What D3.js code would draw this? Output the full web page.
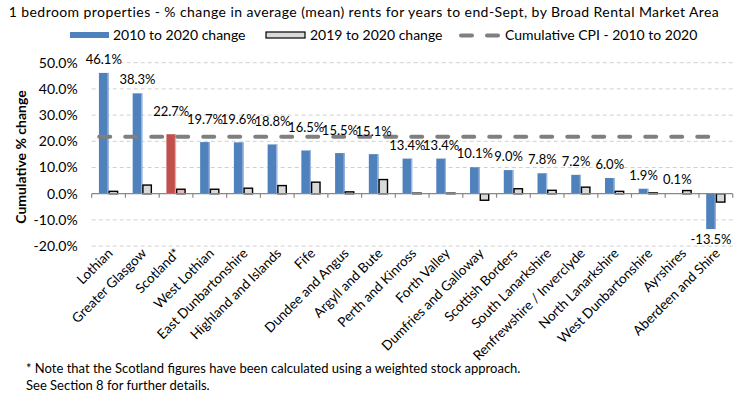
<!DOCTYPE html>
<html><head><meta charset="utf-8">
<script src="https://cdn.jsdelivr.net/npm/d3@7"></script>
<style>body{margin:0;background:#fff}svg{display:block;font-family:Lato,"Open Sans",sans-serif}</style>
</head><body><svg id="c" width="752" height="402"></svg>
<script>
const categories = ["Lothian","Greater Glasgow","Scotland*","West Lothian","East Dunbartonshire","Highland and Islands","Fife","Dundee and Angus","Argyll and Bute","Perth and Kinross","Forth Valley","Dumfries and Galloway","Scottish Borders","South Lanarkshire","Renfrewshire / Inverclyde","North Lanarkshire","West Dunbartonshire","Ayrshires","Aberdeen and Shire"];
const change2010to2020 = [46.1,38.3,22.7,19.7,19.6,18.8,16.5,15.5,15.1,13.4,13.4,10.1,9.0,7.8,7.2,6.0,1.9,0.1,-13.5];
const change2019to2020 = [0.9,3.3,1.7,1.7,2.1,3.1,4.4,0.7,5.4,0.2,0.2,-2.5,1.9,1.3,2.5,0.9,0.3,1.2,-3.2];
const cpi2010to2020 = 21.7;
const yTicks = [-20,-10,0,10,20,30,40,50];
const seriesNames = ["2010 to 2020 change","2019 to 2020 change","Cumulative CPI - 2010 to 2020"];
const title = "1 bedroom properties - % change in average (mean) rents for years to end-Sept, by Broad Rental Market Area";
const yTitle = "Cumulative % change";
const notes = ["* Note that the Scotland figures have been calculated using a weighted stock approach.","See Section 8 for further details."];

const svg = d3.select("#c");
const L = 91.7, R = 732.7, T = 62.7, B = 246.1;
const x = d3.scaleBand().domain(categories).range([L, R]).paddingInner(0).paddingOuter(0);
const sub = d3.scaleBand().domain([0,1]).range([0, x.bandwidth()]).paddingInner(0).paddingOuter(0.75);
const y = d3.scaleLinear().domain([-20, 50]).range([B, T]);
const fmt = v => v.toFixed(1) + "%";

// title
svg.append("text").attr("x", 364).attr("y", 17).attr("text-anchor","middle").attr("font-size",14)
  .attr("letter-spacing",0.43).attr("fill","#000").text(title);

// gridlines
svg.append("g").selectAll("line").data(yTicks.filter(d=>d!==0)).join("line")
  .attr("x1", L).attr("x2", R).attr("y1", d=>y(d)).attr("y2", d=>y(d))
  .attr("stroke","#d0d0d0").attr("stroke-width",1).attr("stroke-dasharray","4,3");

// y axis labels
const yAxis = d3.axisLeft(y).tickValues(yTicks).tickFormat(fmt).tickSize(0).tickPadding(0);
const ya = svg.append("g").attr("transform",`translate(${L-14},0)`).call(yAxis);
ya.select(".domain").remove();
ya.selectAll("text").attr("font-size",14).attr("font-family","Lato,'Open Sans',sans-serif").attr("fill","#000");

// y title
svg.append("text").attr("transform","translate(26,157) rotate(-90)").attr("text-anchor","middle")
  .attr("font-size",14).attr("font-weight","bold").text(yTitle);

// bars
const gBars = svg.append("g");
const rows = categories.map((c,i)=>({c, a:change2010to2020[i], b:change2019to2020[i], scot:c==="Scotland*"}));
gBars.selectAll("rect.a").data(rows).join("rect").attr("class","a")
  .attr("x", d=>x(d.c)+sub(0)).attr("width", sub.bandwidth())
  .attr("y", d=>y(Math.max(0,d.a))).attr("height", d=>Math.abs(y(d.a)-y(0)))
  .attr("fill", d=>d.scot?"#C0504D":"#4F81BD");
gBars.selectAll("rect.ae").data(rows).join("rect").attr("class","ae")
  .attr("x", d=>x(d.c)+sub(0)+sub.bandwidth()-1.2).attr("width", 1.2)
  .attr("y", d=>y(Math.max(0,d.a))).attr("height", d=>Math.abs(y(d.a)-y(0)))
  .attr("fill", d=>d.scot?"#E8A9A8":"#9DB8DD");
gBars.selectAll("rect.b").data(rows).join("rect").attr("class","b")
  .attr("x", d=>x(d.c)+sub(1)+0.6).attr("width", sub.bandwidth()-1.2)
  .attr("y", d=>y(Math.max(0,d.b))).attr("height", d=>Math.abs(y(d.b)-y(0)))
  .attr("fill", d=>d.scot?"#E6B9B8":"#D9D9D9").attr("stroke","#000").attr("stroke-width",1.4);

// x axis line + ticks
const xa = svg.append("g").attr("transform",`translate(0,${y(0)})`);
xa.append("line").attr("x1",L).attr("x2",R).attr("stroke","#888").attr("stroke-width",1.2);
xa.selectAll("line.t").data(categories.concat(["__end"])).join("line").attr("class","t")
  .attr("x1",(d,i)=>i<categories.length?x(d):R).attr("x2",(d,i)=>i<categories.length?x(d):R)
  .attr("y1",0).attr("y2",4).attr("stroke","#888").attr("stroke-width",1.2);

// CPI line
const lineData = categories.map(c=>({c, v:cpi2010to2020}));
const line = d3.line().x((d,i)=> i===0 ? x(d.c)+sub(0)+0.3 : x(d.c)+x.bandwidth()/2).y(d=>y(d.v));
const lineY = y(cpi2010to2020);
svg.append("path").datum(lineData).attr("d", line).attr("fill","none")
  .attr("stroke","#7F7F7F").attr("stroke-width",4).attr("stroke-linecap","round").attr("stroke-dasharray","11,15");

// data labels (moved above the CPI line where they would collide with it)
function labelCenter(d){
  if (d.a < 0) return y(d.a) + 10.5;
  const top = y(d.a);
  const c = top - 13.5;
  if (c > lineY - 22 && c < lineY + 7) return top - 23;
  return c;
}
svg.append("g").selectAll("text").data(rows).join("text")
  .attr("x", d=>x(d.c)+sub(0)+sub.bandwidth()/2)
  .attr("y", d=>labelCenter(d)).attr("dy","0.35em")
  .attr("text-anchor","middle").attr("font-size",13).attr("fill","#000").text(d=>fmt(d.a));

// x labels
svg.append("g").selectAll("text").data(categories).join("text")
  .attr("transform", d=>`translate(${x(d)+x.bandwidth()/2+5},${B+8}) rotate(-45)`)
  .attr("text-anchor","end").attr("font-size",13.5).attr("fill","#000").text(d=>d);

// legend
const lg = svg.append("g");
lg.append("rect").attr("x",70).attr("y",32).attr("width",39).attr("height",6).attr("fill","#4F81BD");
lg.append("text").attr("x",113).attr("y",40).attr("font-size",14).text(seriesNames[0]);
lg.append("rect").attr("x",266).attr("y",32).attr("width",39).attr("height",6).attr("fill","#D9D9D9").attr("stroke","#000").attr("stroke-width",1.2);
lg.append("text").attr("x",310).attr("y",40).attr("font-size",14).text(seriesNames[1]);
lg.append("line").attr("x1",461).attr("x2",499).attr("y1",35.5).attr("y2",35.5).attr("stroke","#7F7F7F").attr("stroke-width",4).attr("stroke-linecap","round").attr("stroke-dasharray","11,15");
lg.append("text").attr("x",505).attr("y",40).attr("font-size",14).text(seriesNames[2]);

// notes
svg.append("g").selectAll("text").data(notes).join("text")
  .attr("x",26).attr("y",(d,i)=>373+i*17).attr("font-size",13).text(d=>d);
</script></body></html>
